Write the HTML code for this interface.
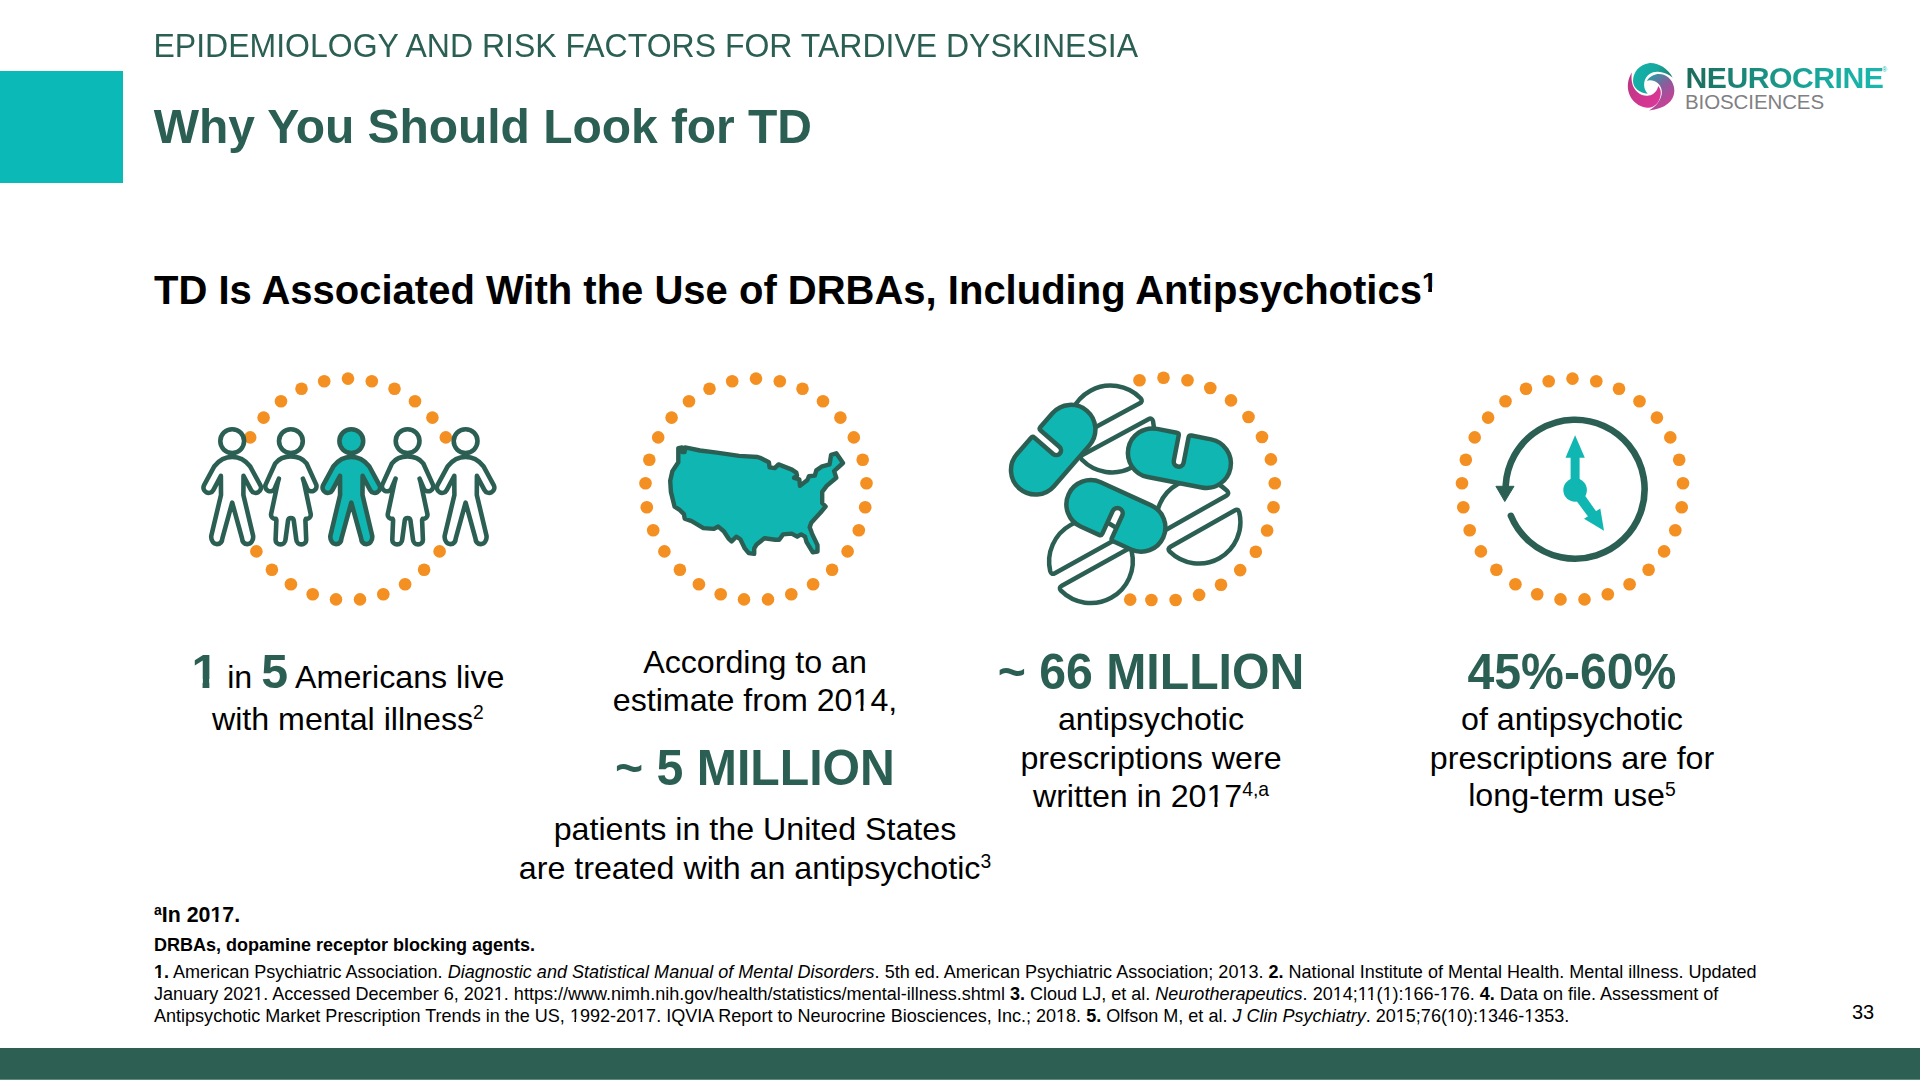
<!DOCTYPE html>
<html><head><meta charset="utf-8"><title>Why You Should Look for TD</title>
<style>
*{margin:0;padding:0;box-sizing:border-box}
html,body{width:1920px;height:1080px;overflow:hidden;background:#fff}
body{position:relative;font-family:"Liberation Sans",Arial,sans-serif;color:#000}
#art{position:absolute;left:0;top:0}
.abs{position:absolute;white-space:nowrap}
#sq{position:absolute;left:0;top:71px;width:123px;height:112px;background:#0bbab6}
#bar{position:absolute;left:0;top:1048px;width:1920px;height:32px;background:#2d5f53}
#kicker{left:153.5px;top:26px;font-size:32px;line-height:40px;color:#2c5f53;transform:scaleY(1.045);transform-origin:0 31.1px}
#title{left:153.8px;top:99px;font-size:48px;line-height:56px;font-weight:bold;color:#2c5f53;letter-spacing:-0.055px;transform:scaleY(1.02);transform-origin:0 44px}
#sub{left:154px;top:265.6px;font-size:40px;line-height:48px;font-weight:bold}
sup{font-size:60%;vertical-align:baseline;position:relative;top:-0.55em;line-height:0}
.big{color:#2c5f53;font-weight:bold;font-size:48.2px;line-height:0}
.cap{font-size:32px;line-height:38.4px;text-align:center}
.ln{position:absolute;white-space:nowrap;text-align:center}
#c1{left:148px;top:650px;width:400px}
#c2{left:505px;top:644px;width:500px}
#c3{left:950px;top:644px;width:400px}
#c4{left:1372px;top:644px;width:400px}
.fn{left:154px;font-weight:bold}
#refs{position:absolute;left:154px;top:960px;font-size:16.6px;line-height:22px;white-space:nowrap}
#pg{left:1851px;top:1001px;font-size:18px}
#logo1{left:1685.5px;top:61px;font-size:30.2px;line-height:34px;font-weight:bold;letter-spacing:-0.5px;background:linear-gradient(90deg,#1d6b5b,#19a396 60%,#1ab8b0);-webkit-background-clip:text;background-clip:text;color:transparent}
#logo2{left:1685px;top:90.5px;font-size:20.5px;line-height:22px;letter-spacing:-0.1px;color:#7f8083}
#reg{left:1882px;top:66px;font-size:7px;color:#1ab8b0}
.n1{clip-path:polygon(0 0,100% 0,100% .74em,.342em .74em,.342em 100%,.248em 100%,.248em .74em,0 .74em)}
.b1{clip-path:polygon(0 0,100% 0,100% .72em,.373em .72em,.373em 100%,.232em 100%,.232em .72em,0 .72em)}
</style></head><body>
<svg id="art" width="1920" height="1080" viewBox="0 0 1920 1080">
<defs>
<linearGradient id="ng" x1="0" x2="1" y1="0" y2="0"><stop offset="0" stop-color="#1d6b5b"/><stop offset="0.55" stop-color="#1a9a8e"/><stop offset="1" stop-color="#1ab8b0"/></linearGradient>
<linearGradient id="b1" x1="0" y1="0" x2="1" y2="0.3"><stop offset="0" stop-color="#14b3ac"/><stop offset="0.6" stop-color="#16a89f"/><stop offset="1" stop-color="#1f7f70"/></linearGradient>
<linearGradient id="b2" x1="0" y1="0" x2="0.6" y2="1"><stop offset="0" stop-color="#16aaa6"/><stop offset="0.5" stop-color="#8a5c9c"/><stop offset="1" stop-color="#d23b95"/></linearGradient>
<linearGradient id="b3" x1="0" y1="0" x2="1" y2="1"><stop offset="0" stop-color="#b8357f"/><stop offset="1" stop-color="#e0379a"/></linearGradient>
</defs>
<g fill="#f48f22">
<circle cx="348.0" cy="378.6" r="6.3"/>
<circle cx="371.8" cy="381.2" r="6.3"/>
<circle cx="394.5" cy="388.8" r="6.3"/>
<circle cx="415.0" cy="401.2" r="6.3"/>
<circle cx="432.4" cy="417.6" r="6.3"/>
<circle cx="445.8" cy="437.4" r="6.3"/>
<circle cx="458.5" cy="483.3" r="6.3"/>
<circle cx="457.2" cy="507.2" r="6.3"/>
<circle cx="450.8" cy="530.3" r="6.3"/>
<circle cx="439.6" cy="551.4" r="6.3"/>
<circle cx="424.1" cy="569.7" r="6.3"/>
<circle cx="405.1" cy="584.2" r="6.3"/>
<circle cx="383.3" cy="594.2" r="6.3"/>
<circle cx="360.0" cy="599.4" r="6.3"/>
<circle cx="336.0" cy="599.4" r="6.3"/>
<circle cx="312.7" cy="594.2" r="6.3"/>
<circle cx="290.9" cy="584.2" r="6.3"/>
<circle cx="271.9" cy="569.7" r="6.3"/>
<circle cx="256.4" cy="551.4" r="6.3"/>
<circle cx="245.2" cy="530.3" r="6.3"/>
<circle cx="238.8" cy="507.2" r="6.3"/>
<circle cx="237.5" cy="483.3" r="6.3"/>
<circle cx="250.2" cy="437.4" r="6.3"/>
<circle cx="263.6" cy="417.6" r="6.3"/>
<circle cx="281.0" cy="401.2" r="6.3"/>
<circle cx="301.5" cy="388.8" r="6.3"/>
<circle cx="324.2" cy="381.2" r="6.3"/>
<circle cx="756.0" cy="378.6" r="6.3"/>
<circle cx="779.8" cy="381.2" r="6.3"/>
<circle cx="802.5" cy="388.8" r="6.3"/>
<circle cx="823.0" cy="401.2" r="6.3"/>
<circle cx="840.4" cy="417.6" r="6.3"/>
<circle cx="853.8" cy="437.4" r="6.3"/>
<circle cx="862.7" cy="459.7" r="6.3"/>
<circle cx="866.5" cy="483.3" r="6.3"/>
<circle cx="865.2" cy="507.2" r="6.3"/>
<circle cx="858.8" cy="530.3" r="6.3"/>
<circle cx="847.6" cy="551.4" r="6.3"/>
<circle cx="832.1" cy="569.7" r="6.3"/>
<circle cx="813.1" cy="584.2" r="6.3"/>
<circle cx="791.3" cy="594.2" r="6.3"/>
<circle cx="768.0" cy="599.4" r="6.3"/>
<circle cx="744.0" cy="599.4" r="6.3"/>
<circle cx="720.7" cy="594.2" r="6.3"/>
<circle cx="698.9" cy="584.2" r="6.3"/>
<circle cx="679.9" cy="569.7" r="6.3"/>
<circle cx="664.4" cy="551.4" r="6.3"/>
<circle cx="653.2" cy="530.3" r="6.3"/>
<circle cx="646.8" cy="507.2" r="6.3"/>
<circle cx="645.5" cy="483.3" r="6.3"/>
<circle cx="649.3" cy="459.7" r="6.3"/>
<circle cx="658.2" cy="437.4" r="6.3"/>
<circle cx="671.6" cy="417.6" r="6.3"/>
<circle cx="689.0" cy="401.2" r="6.3"/>
<circle cx="709.5" cy="388.8" r="6.3"/>
<circle cx="732.2" cy="381.2" r="6.3"/>
<circle cx="1163.5" cy="377.7" r="6.3"/>
<circle cx="1187.5" cy="380.3" r="6.3"/>
<circle cx="1210.3" cy="388.0" r="6.3"/>
<circle cx="1231.0" cy="400.4" r="6.3"/>
<circle cx="1248.5" cy="417.0" r="6.3"/>
<circle cx="1262.0" cy="437.0" r="6.3"/>
<circle cx="1270.9" cy="459.4" r="6.3"/>
<circle cx="1274.8" cy="483.2" r="6.3"/>
<circle cx="1273.5" cy="507.2" r="6.3"/>
<circle cx="1267.1" cy="530.5" r="6.3"/>
<circle cx="1255.8" cy="551.8" r="6.3"/>
<circle cx="1240.2" cy="570.1" r="6.3"/>
<circle cx="1221.0" cy="584.7" r="6.3"/>
<circle cx="1199.1" cy="594.9" r="6.3"/>
<circle cx="1175.6" cy="600.0" r="6.3"/>
<circle cx="1151.4" cy="600.0" r="6.3"/>
<circle cx="1130.2" cy="599.6" r="6.3"/>
<circle cx="1139.5" cy="380.3" r="6.3"/>
<circle cx="1572.5" cy="378.6" r="6.3"/>
<circle cx="1596.3" cy="381.2" r="6.3"/>
<circle cx="1619.0" cy="388.8" r="6.3"/>
<circle cx="1639.5" cy="401.2" r="6.3"/>
<circle cx="1656.9" cy="417.6" r="6.3"/>
<circle cx="1670.3" cy="437.4" r="6.3"/>
<circle cx="1679.2" cy="459.7" r="6.3"/>
<circle cx="1683.0" cy="483.3" r="6.3"/>
<circle cx="1681.7" cy="507.2" r="6.3"/>
<circle cx="1675.3" cy="530.3" r="6.3"/>
<circle cx="1664.1" cy="551.4" r="6.3"/>
<circle cx="1648.6" cy="569.7" r="6.3"/>
<circle cx="1629.6" cy="584.2" r="6.3"/>
<circle cx="1607.8" cy="594.2" r="6.3"/>
<circle cx="1584.5" cy="599.4" r="6.3"/>
<circle cx="1560.5" cy="599.4" r="6.3"/>
<circle cx="1537.2" cy="594.2" r="6.3"/>
<circle cx="1515.4" cy="584.2" r="6.3"/>
<circle cx="1496.4" cy="569.7" r="6.3"/>
<circle cx="1480.9" cy="551.4" r="6.3"/>
<circle cx="1469.7" cy="530.3" r="6.3"/>
<circle cx="1463.3" cy="507.2" r="6.3"/>
<circle cx="1462.0" cy="483.3" r="6.3"/>
<circle cx="1465.8" cy="459.7" r="6.3"/>
<circle cx="1474.7" cy="437.4" r="6.3"/>
<circle cx="1488.1" cy="417.6" r="6.3"/>
<circle cx="1505.5" cy="401.2" r="6.3"/>
<circle cx="1526.0" cy="388.8" r="6.3"/>
<circle cx="1548.7" cy="381.2" r="6.3"/>
</g>
<g stroke="#2c5f53" stroke-width="4.6" stroke-linejoin="round" stroke-linecap="round">
<g transform="translate(232.2 441.1)"><path d="M0 15.8 C-6 15.8 -12.5 18.5 -17.8 25.1 L-28.1 44 A5.2 5.2 0 0 0 -18.9 49 L-11.3 34.8 L-11.2 53.9 L-20.9 94.6 C-21.5 99.5 -18.5 103 -15.3 103 C-12 103 -10 100.5 -9.7 96.7 L0 61.5 L9.7 96.7 C10 100.5 12 103 15.3 103 C18.5 103 21.5 99.5 20.9 94.6 L11.2 53.9 L11.3 34.8 L18.9 49 A5.2 5.2 0 0 0 28.1 44 L17.8 25.1 C12.5 18.5 6 15.8 0 15.8Z" fill="#fff"/><circle cx="0" cy="0" r="11.9" fill="#fff"/></g>
<g transform="translate(290.9 441.1)"><path d="M0 15.3 C-6 15.3 -11.5 17 -15.6 22.2 L-25.3 43.5 A5 5 0 0 0 -16.6 48.2 L-12 37.5 L-13 41 L-19.8 73 C-20.3 76 -18 77.8 -15 77.8 L-14.5 79 L-15.3 98.5 C-15.5 101.5 -13 103.3 -10.4 103.3 C-7.8 103.3 -5.6 101.3 -5.4 98.5 L-2.8 79 C-2.5 77.5 -1.3 77 0 77 C1.3 77 2.5 77.5 2.8 79 L5.4 98.5 C5.6 101.3 7.8 103.3 10.4 103.3 C13 103.3 15.5 101.5 15.3 98.5 L14.5 79 L15 77.8 C18 77.8 20.3 76 19.8 73 L13 41 L12 37.5 L16.6 48.2 A5 5 0 0 0 25.3 43.5 L15.6 22.2 C11.5 17 6 15.3 0 15.3Z" fill="#fff"/><circle cx="0" cy="0" r="11.9" fill="#fff"/></g>
<g transform="translate(351.3 441.1)"><path d="M0 15.8 C-6 15.8 -12.5 18.5 -17.8 25.1 L-28.1 44 A5.2 5.2 0 0 0 -18.9 49 L-11.3 34.8 L-11.2 53.9 L-20.9 94.6 C-21.5 99.5 -18.5 103 -15.3 103 C-12 103 -10 100.5 -9.7 96.7 L0 61.5 L9.7 96.7 C10 100.5 12 103 15.3 103 C18.5 103 21.5 99.5 20.9 94.6 L11.2 53.9 L11.3 34.8 L18.9 49 A5.2 5.2 0 0 0 28.1 44 L17.8 25.1 C12.5 18.5 6 15.8 0 15.8Z" fill="#10b6b2"/><circle cx="0" cy="0" r="11.9" fill="#10b6b2"/></g>
<g transform="translate(407.6 441.1)"><path d="M0 15.3 C-6 15.3 -11.5 17 -15.6 22.2 L-25.3 43.5 A5 5 0 0 0 -16.6 48.2 L-12 37.5 L-13 41 L-19.8 73 C-20.3 76 -18 77.8 -15 77.8 L-14.5 79 L-15.3 98.5 C-15.5 101.5 -13 103.3 -10.4 103.3 C-7.8 103.3 -5.6 101.3 -5.4 98.5 L-2.8 79 C-2.5 77.5 -1.3 77 0 77 C1.3 77 2.5 77.5 2.8 79 L5.4 98.5 C5.6 101.3 7.8 103.3 10.4 103.3 C13 103.3 15.5 101.5 15.3 98.5 L14.5 79 L15 77.8 C18 77.8 20.3 76 19.8 73 L13 41 L12 37.5 L16.6 48.2 A5 5 0 0 0 25.3 43.5 L15.6 22.2 C11.5 17 6 15.3 0 15.3Z" fill="#fff"/><circle cx="0" cy="0" r="11.9" fill="#fff"/></g>
<g transform="translate(465.6 441.1)"><path d="M0 15.8 C-6 15.8 -12.5 18.5 -17.8 25.1 L-28.1 44 A5.2 5.2 0 0 0 -18.9 49 L-11.3 34.8 L-11.2 53.9 L-20.9 94.6 C-21.5 99.5 -18.5 103 -15.3 103 C-12 103 -10 100.5 -9.7 96.7 L0 61.5 L9.7 96.7 C10 100.5 12 103 15.3 103 C18.5 103 21.5 99.5 20.9 94.6 L11.2 53.9 L11.3 34.8 L18.9 49 A5.2 5.2 0 0 0 28.1 44 L17.8 25.1 C12.5 18.5 6 15.8 0 15.8Z" fill="#fff"/><circle cx="0" cy="0" r="11.9" fill="#fff"/></g>
<path d="M678.3 448.1 L682 447.5 L682.3 452 L684.6 452 L685 447.4 L700 450.5 L716.9 452.6 L739.1 455.9 L757.6 457 L760 457.8 L768.9 462.2 L769.6 467.4 L774.8 468.1 L778.5 464.4 L791.9 469.6 L796.3 472.6 L797 475.6 L794.1 477.8 L799.3 479.3 L800 485.9 L807.4 480 L808.9 476.3 L814.8 475.6 L816.3 470.4 L821.5 466.7 L829.6 464.4 L831.1 454.8 L836.3 453.3 L843 463 L834.1 471.1 L836.3 477.8 L826.7 485.9 L822.2 491.9 L822.2 503 L825.6 506.5 L820.6 512.5 L811.25 522.7 L809.7 527.3 L812 533.6 L817.5 545.3 L817.5 551.6 L812.8 552.3 L806.6 542.2 L805 536.7 L801.1 534.4 L797.2 536.7 L791.7 533.6 L783.1 534.4 L779.2 539.8 L775.3 539.8 L764.4 538.3 L756.6 544.5 L754.2 548.4 L754.2 553.9 L748.75 553.1 L744.8 548.4 L740.2 539.1 L736.25 536.7 L731.6 541.4 L728.4 538.3 L723.75 531.25 L718.3 526.6 L713.6 528.9 L703.4 528.1 L691.7 521.1 L684.7 518.75 L683.9 514.1 L680 510.2 L674.6 506.7 L670.9 491.9 L670.2 480.7 L672.4 471.1 L678.3 462.2 Z" fill="#10b6b2" stroke-width="4.4"/>
</g>
<g stroke="#2c5f53" stroke-width="4.5" stroke-linejoin="round" stroke-linecap="round">
<g transform="translate(1111.3 429.0) rotate(-28.5)"><path transform="translate(0 -1.6)" d="M-37.32 -7.5 Q-41.32 -7.5 -40.42 -11.40 A42 42 0 0 1 40.42 -11.40 Q41.32 -7.5 37.32 -7.5 Z" fill="#fff"/><path transform="translate(0 1.6)" d="M37.32 7.5 Q41.32 7.5 40.42 11.40 A42 42 0 0 1 -40.42 11.40 Q-41.32 7.5 -37.32 7.5 Z" fill="#fff"/></g>
<g transform="translate(1198.4 521.2) rotate(-29.5)"><path transform="translate(0 -1.0)" d="M-36.82 -7.5 Q-40.82 -7.5 -39.91 -11.39 A41.5 41.5 0 0 1 39.91 -11.39 Q40.82 -7.5 36.82 -7.5 Z" fill="#fff"/><path transform="translate(0 1.0)" d="M36.82 7.5 Q40.82 7.5 39.91 11.39 A41.5 41.5 0 0 1 -39.91 11.39 Q-40.82 7.5 -36.82 7.5 Z" fill="#fff"/></g>
<g transform="translate(1091.6 562.5) rotate(-29)"><path transform="translate(0 -1.0)" d="M-37.32 -7.5 Q-41.32 -7.5 -40.42 -11.40 A42 42 0 0 1 40.42 -11.40 Q41.32 -7.5 37.32 -7.5 Z" fill="#fff"/><path transform="translate(0 -1.6)" d="M37.32 7.5 Q41.32 7.5 40.42 11.40 A42 42 0 0 1 -40.42 11.40 Q-41.32 7.5 -37.32 7.5 Z" fill="#fff"/></g>
<path transform="translate(1053.2 449.7) rotate(-49)" d="M-5.75 -24.5 Q-3.25 -24.5 -3.25 -22.0 L-3.25 2.75 A4.75 4.75 0 0 0 6.25 2.75 L6.25 -22.0 Q6.25 -24.5 8.75 -24.5 L27.0 -24.5 A24.5 24.5 0 0 1 27.0 24.5 L-27.0 24.5 A24.5 24.5 0 0 1 -27.0 -24.5 Z" fill="#10b6b2"/>
<path transform="translate(1179.4 458.2) rotate(11)" d="M-7.50 -24.5 Q-5.00 -24.5 -5.00 -22.0 L-5.00 3.50 A5.0 5.0 0 0 0 5.00 3.50 L5.00 -22.0 Q5.00 -24.5 7.50 -24.5 L27.5 -24.5 A24.5 24.5 0 0 1 27.5 24.5 L-27.5 24.5 A24.5 24.5 0 0 1 -27.5 -24.5 Z" fill="#10b6b2"/>
<path transform="translate(1115.9 515.9) rotate(204.5)" d="M-8.05 -24.25 Q-5.55 -24.25 -5.55 -21.75 L-5.55 3.00 A5.25 5.25 0 0 0 4.95 3.00 L4.95 -21.75 Q4.95 -24.25 7.45 -24.25 L27.75 -24.25 A24.25 24.25 0 0 1 27.75 24.25 L-27.75 24.25 A24.25 24.25 0 0 1 -27.75 -24.25 Z" fill="#10b6b2"/>
</g>
<path d="M1505.7 485.6 A69.5 69.5 0 1 1 1510.9 515.8" fill="none" stroke="#2c5f53" stroke-width="6.6" stroke-linecap="round"/><path d="M1495.9 486.3 L1514 486.3 L1504.8 501.5 Z" fill="#2c5f53" stroke="#2c5f53" stroke-width="1" stroke-linejoin="round"/><g fill="#10b6b2"><circle cx="1575.1" cy="490" r="11.8"/><rect x="1570.6" y="455" width="9" height="30"/><path d="M1565.5 457.7 L1584.8 457.7 L1575.1 435.2 Z"/><path d="M1571.6 494.3 L1579.4 487.7 L1596.4 511.7 L1588.6 517.3 Z"/><path d="M1584 518.8 L1600.3 508.5 L1604 530.7 Z"/></g>
<g transform="translate(1650.8 86.8)">
<path fill="url(#b1)" d="M21.9 -9.1 C17 -19 6 -24.5 -2 -23.6 C-11 -22.5 -17.5 -15 -17.8 -6 C-18 1 -11 6.5 -3 7 C-6.5 3.5 -7.5 -2 -6 -6.5 C-4 -12 1.5 -15.5 7.5 -15 C13.5 -14.5 18.5 -12 21.9 -9.1Z"/>
<path fill="url(#b2)" d="M-4 -6 C0 -12 7 -14 13 -12 C20 -9.5 24 -2 23.5 5 C23 14 15 22 -1.9 23.6 C5 20 9.5 14 10.8 8 C12 2 9 -3 4 -5.5 C1 -6.8 -2 -6.8 -4 -6Z"/>
<path fill="url(#b3)" d="M-19 -14.2 C-23 -8 -24 0 -22 6 C-19.5 14 -12 20.5 -3.5 21 C4.5 21.5 10 14 10 6 C10 3 9 1 7.4 -0.8 C6.5 4 3 8 -2 8.8 C-9 10 -16 5 -18.2 -2 C-19.3 -6 -19.6 -10 -19 -14.2Z"/>
</g>
</svg>
<div id="sq"></div>
<div class="abs" id="kicker">EPIDEMIOLOGY AND RISK FACTORS FOR TARDIVE DYSKINESIA</div>
<div class="abs" id="title">Why You Should Look for TD</div>
<div class="abs" id="logo1">NEUROCRINE</div>
<div class="abs" id="reg">®</div>
<div class="abs" id="logo2">BIOSCIENCES</div>
<div class="abs" id="sub">TD Is Associated With the Use of DRBAs, Including Antipsychotics<sup style="font-size:27px;top:-11.75px"><span class="b1">1</span></sup></div>

<div class="ln" style="left:87.9px;top:658.3px;width:520px;font-size:32.2px;line-height:38.6px;"><span class="big"><span class=b1>1</span></span> in <span class="big">5</span> Americans live</div>
<div class="ln" style="left:87.9px;top:699.9px;width:520px;font-size:32.2px;line-height:38.6px;">with mental illness<sup>2</sup></div>
<div class="ln" style="left:495.0px;top:642.6px;width:520px;font-size:32.2px;line-height:38.6px;">According to an</div>
<div class="ln" style="left:495.0px;top:680.5px;width:520px;font-size:32.2px;line-height:38.6px;">estimate from 20<span class="n1">1</span>4,</div>
<div class="ln" style="left:495.0px;top:739.5px;width:520px;font-size:48.2px;line-height:57.8px;transform:scaleY(1.045);transform-origin:50% 45.6px;"><span class="big">~ 5 MILLION</span></div>
<div class="ln" style="left:495.0px;top:810.0px;width:520px;font-size:32.2px;line-height:38.6px;">patients in the United States</div>
<div class="ln" style="left:495.0px;top:849.0px;width:520px;font-size:32.2px;line-height:38.6px;">are treated with an antipsychotic<sup>3</sup></div>
<div class="ln" style="left:891.0px;top:643.6px;width:520px;font-size:48.2px;line-height:57.8px;transform:scaleY(1.045);transform-origin:50% 45.6px;"><span class="big">~ 66 MILLION</span></div>
<div class="ln" style="left:891.0px;top:700.3px;width:520px;font-size:32.2px;line-height:38.6px;">antipsychotic</div>
<div class="ln" style="left:891.0px;top:738.7px;width:520px;font-size:32.2px;line-height:38.6px;">prescriptions were</div>
<div class="ln" style="left:891.0px;top:777.0px;width:520px;font-size:32.2px;line-height:38.6px;">written in 20<span class="n1">1</span>7<sup>4,a</sup></div>
<div class="ln" style="left:1312.0px;top:643.6px;width:520px;font-size:48.2px;line-height:57.8px;transform:scaleY(1.045);transform-origin:50% 45.6px;"><span class="big">45%-60%</span></div>
<div class="ln" style="left:1312.0px;top:700.3px;width:520px;font-size:32.2px;line-height:38.6px;">of antipsychotic</div>
<div class="ln" style="left:1312.0px;top:738.7px;width:520px;font-size:32.2px;line-height:38.6px;">prescriptions are for</div>
<div class="ln" style="left:1312.0px;top:776.4px;width:520px;font-size:32.2px;line-height:38.6px;">long-term use<sup>5</sup></div>
<div class="abs" style="left:154px;top:902.5px;font-size:21.33px;line-height:25.6px;font-weight:bold"><sup style="font-size:14px;top:-6.4px">a</sup>In 20<span class=b1>1</span>7.</div>
<div class="abs" style="left:154px;top:934.5px;font-size:18px;line-height:21.6px;font-weight:bold">DRBAs, dopamine receptor blocking agents.</div>
<div class="abs" style="left:154px;top:962.1px;font-size:18.04px;line-height:21.6px;"><b><span class="b1">1</span>.</b> American Psychiatric Association. <i>Diagnostic and Statistical Manual of Mental Disorders</i>. 5th ed. American Psychiatric Association; 20<span class="n1">1</span>3. <b>2.</b> National Institute of Mental Health. Mental illness. Updated</div>
<div class="abs" style="left:154px;top:983.9px;font-size:18.04px;line-height:21.6px;">January 202<span class="n1">1</span>. Accessed December 6, 202<span class="n1">1</span>. https://www.nimh.nih.gov/health/statistics/mental-illness.shtml <b>3.</b> Cloud LJ, et al. <i>Neurotherapeutics</i>. 20<span class="n1">1</span>4;<span class="n1">1</span><span class="n1">1</span>(<span class="n1">1</span>):<span class="n1">1</span>66-<span class="n1">1</span>76. <b>4.</b> Data on file. Assessment of</div>
<div class="abs" style="left:154px;top:1006.0px;font-size:18.04px;line-height:21.6px;">Antipsychotic Market Prescription Trends in the US, <span class="n1">1</span>992-20<span class="n1">1</span>7. IQVIA Report to Neurocrine Biosciences, Inc.; 20<span class="n1">1</span>8. <b>5.</b> Olfson M, et al. <i>J Clin Psychiatry</i>. 20<span class="n1">1</span>5;76(<span class="n1">1</span>0):<span class="n1">1</span>346-<span class="n1">1</span>353.</div>
<div class="abs" style="left:1852px;top:999.9px;font-size:20px;line-height:24.0px;">33</div>
<div id="bar"></div><div style="position:absolute;left:0;top:1079px;width:1920px;height:1px;background:#5b8a7e"></div>
</body></html>
